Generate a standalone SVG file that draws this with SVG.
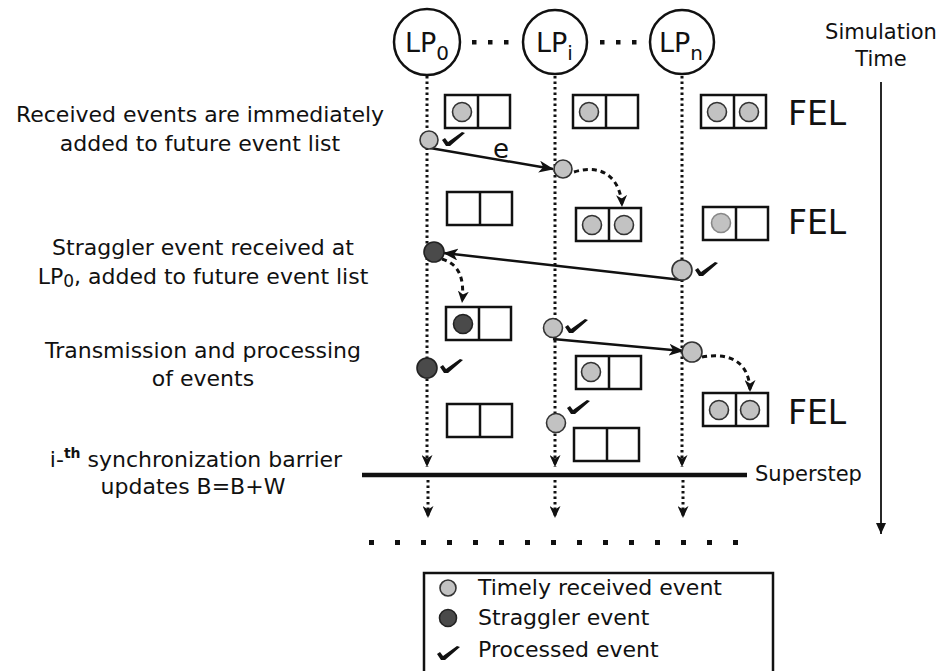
<svg xmlns="http://www.w3.org/2000/svg" width="943" height="671" viewBox="0 0 943 671">
<style>
text{font-family:"DejaVu Sans","Liberation Sans",sans-serif;fill:#111}
.lp{fill:#fff;stroke:#111;stroke-width:2.5}
.box{fill:#fff;stroke:#111;stroke-width:2.5}
.lt{fill:#c2c2c2;stroke:#333;stroke-width:1.6}
.dk{fill:#4a4a4a;stroke:#222;stroke-width:1.6}
.life{fill:none;stroke:#111;stroke-width:3;stroke-dasharray:2.5 3}
.msg{fill:none;stroke:#111;stroke-width:2.5}
.dash{fill:none;stroke:#111;stroke-width:3;stroke-dasharray:5 4}
.lbl{font-size:22px;text-anchor:middle}
.fel{font-size:33px}
</style>
<defs>
<marker id="ah" markerUnits="userSpaceOnUse" markerWidth="16" markerHeight="12" refX="14" refY="6" orient="auto">
<path d="M0,0 L15,6 L0,12 L4,6 Z" fill="#111"/>
</marker>
<marker id="ahs" markerUnits="userSpaceOnUse" markerWidth="13" markerHeight="11" refX="12" refY="5.5" orient="auto">
<path d="M0,0 L12,5.5 L0,11 L3.5,5.5 Z" fill="#111"/>
</marker>
<marker id="ta" markerUnits="userSpaceOnUse" markerWidth="12" markerHeight="10" refX="11" refY="5" orient="auto">
<path d="M0,0 L11,5 L0,10 Z" fill="#111"/>
</marker>
<path id="chk" d="M0,7 L4,13 L8,13 L23,0 L20,-1 L6,9 L3,5 Z" fill="#111"/>
<g id="fbox"><rect class="box" x="0" y="0" width="65" height="33"/><line x1="33" y1="0" x2="33" y2="33" stroke="#111" stroke-width="2.5"/></g>
</defs>

<g id="connectors">
<!-- lifelines -->
<line class="life" x1="427" y1="76" x2="427" y2="467" marker-end="url(#ahs)"/>
<line class="life" x1="555" y1="76" x2="555" y2="467" marker-end="url(#ahs)"/>
<line class="life" x1="682" y1="76" x2="682" y2="467" marker-end="url(#ahs)"/>
<line class="life" x1="428" y1="480" x2="428" y2="518" marker-end="url(#ahs)"/>
<line class="life" x1="555" y1="480" x2="555" y2="518" marker-end="url(#ahs)"/>
<line class="life" x1="683" y1="480" x2="683" y2="518" marker-end="url(#ahs)"/>
<!-- messages -->
<line class="msg" x1="430" y1="148" x2="553" y2="169" marker-end="url(#ah)"/>
<line class="msg" x1="682" y1="280" x2="444" y2="253" marker-end="url(#ah)"/>
<line class="msg" x1="553" y1="339" x2="683" y2="351" marker-end="url(#ah)"/>
<!-- dashed moves into FEL -->
<path class="dash" d="M574,172 C602,163 621,178 622,207" marker-end="url(#ahs)"/>
<path class="dash" d="M442,259 C458,264 465,276 462,303" marker-end="url(#ahs)"/>
<path class="dash" d="M702,357 C730,352 750,362 750,392" marker-end="url(#ahs)"/>
</g>

<g id="lp0"><circle class="lp" cx="427" cy="42" r="33"/><text x="405" y="52" font-size="27">LP<tspan font-size="20" dy="8">0</tspan></text></g>
<g id="lpi"><circle class="lp" cx="555" cy="42" r="32"/><text x="536" y="52" font-size="27">LP<tspan font-size="20" dy="8">i</tspan></text></g>
<g id="lpn"><circle class="lp" cx="682" cy="42" r="32"/><text x="659" y="52" font-size="27">LP<tspan font-size="20" dy="8">n</tspan></text></g>

<g id="ellipsis" fill="#111">
<rect x="472" y="40" width="4.5" height="4.5"/><rect x="488" y="40" width="4.5" height="4.5"/><rect x="504" y="40" width="4.5" height="4.5"/>
<rect x="600" y="40" width="4.5" height="4.5"/><rect x="616" y="40" width="4.5" height="4.5"/><rect x="632" y="40" width="4.5" height="4.5"/>
</g>

<g id="fel-boxes">
<use href="#fbox" x="445" y="95"/><circle class="lt" cx="462" cy="112" r="9.5"/>
<use href="#fbox" x="573" y="95"/><circle class="lt" cx="589" cy="112" r="9.5"/>
<use href="#fbox" x="701" y="95"/><circle class="lt" cx="717" cy="112" r="9.5"/><circle class="lt" cx="749" cy="112" r="9.5"/>
<use href="#fbox" x="447" y="192"/>
<use href="#fbox" x="576" y="208"/><circle class="lt" cx="592" cy="225" r="9.5"/><circle class="lt" cx="624" cy="225" r="9.5"/>
<use href="#fbox" x="703" y="207"/><circle class="lt" cx="721" cy="223" r="9.5" style="stroke:#888"/>
<use href="#fbox" x="446" y="307"/><circle class="dk" cx="463" cy="324" r="9.5"/>
<use href="#fbox" x="576" y="356"/><circle class="lt" cx="591" cy="372" r="9.5"/>
<use href="#fbox" x="447" y="404"/>
<use href="#fbox" x="703" y="393"/><circle class="lt" cx="719" cy="410" r="9.5"/><circle class="lt" cx="750" cy="410" r="9.5"/>
<use href="#fbox" x="574" y="428"/>
</g>

<g id="fel-labels">
<text class="fel" x="788" y="125">FEL</text>
<text class="fel" x="788" y="234">FEL</text>
<text class="fel" x="788" y="424">FEL</text>
</g>

<g id="events">
<circle class="lt" cx="429" cy="140" r="9"/><use href="#chk" x="442" y="133"/>
<text x="493" y="158" font-size="26">e</text>
<circle class="lt" cx="563" cy="169" r="9"/>
<circle class="dk" cx="434" cy="252" r="10"/>
<circle class="lt" cx="682" cy="270" r="10"/><use href="#chk" x="695" y="263"/>
<circle class="lt" cx="553" cy="328" r="9.5"/><use href="#chk" x="565" y="320"/>
<circle class="lt" cx="692" cy="352" r="10"/>
<circle class="dk" cx="427" cy="368" r="10"/><use href="#chk" x="440" y="360"/>
<circle class="lt" cx="556" cy="423" r="9.5"/><use href="#chk" x="567" y="401"/>
</g>

<g id="superstep">
<line x1="362" y1="475" x2="747" y2="475" stroke="#111" stroke-width="4.5"/>
<text x="755" y="481" font-size="21">Superstep</text>
</g>

<g id="continuation" fill="#111">
<rect x="369" y="540" width="5" height="5"/><rect x="395" y="540" width="5" height="5"/><rect x="421" y="540" width="5" height="5"/><rect x="447" y="540" width="5" height="5"/><rect x="473" y="540" width="5" height="5"/><rect x="499" y="540" width="5" height="5"/><rect x="525" y="540" width="5" height="5"/><rect x="551" y="540" width="5" height="5"/><rect x="577" y="540" width="5" height="5"/><rect x="603" y="540" width="5" height="5"/><rect x="629" y="540" width="5" height="5"/><rect x="655" y="540" width="5" height="5"/><rect x="681" y="540" width="5" height="5"/><rect x="707" y="540" width="5" height="5"/><rect x="733" y="540" width="5" height="5"/>
</g>

<g id="sim-time">
<text x="881" y="39" font-size="21" text-anchor="middle">Simulation</text>
<text x="881" y="66" font-size="21" text-anchor="middle">Time</text>
<line x1="881" y1="82" x2="881" y2="534" stroke="#111" stroke-width="1.8" marker-end="url(#ta)"/>
</g>

<g id="left-notes">
<text class="lbl" x="200" y="122">Received events are immediately</text>
<text class="lbl" x="200" y="151">added to future event list</text>
<text class="lbl" x="203" y="255">Straggler event received at</text>
<text class="lbl" x="203" y="284">LP<tspan font-size="17" dy="3">0</tspan><tspan dy="-3">, added to future event list</tspan></text>
<text class="lbl" x="203" y="358">Transmission and processing</text>
<text class="lbl" x="203" y="386">of events</text>
<text class="lbl" x="196" y="467">i-<tspan font-size="14" dy="-9" font-weight="bold">th</tspan><tspan dy="9"> synchronization barrier</tspan></text>
<text class="lbl" x="193" y="494">updates B=B+W</text>
</g>

<g id="legend">
<rect x="424" y="573" width="349" height="110" fill="#fff" stroke="#111" stroke-width="2.5"/>
<circle class="lt" cx="448" cy="588" r="8"/>
<text x="478" y="595" font-size="22">Timely received event</text>
<circle class="dk" cx="448" cy="618" r="8.5"/>
<text x="478" y="625" font-size="22">Straggler event</text>
<use href="#chk" x="437" y="647"/>
<text x="478" y="657" font-size="22">Processed event</text>
</g>
</svg>
